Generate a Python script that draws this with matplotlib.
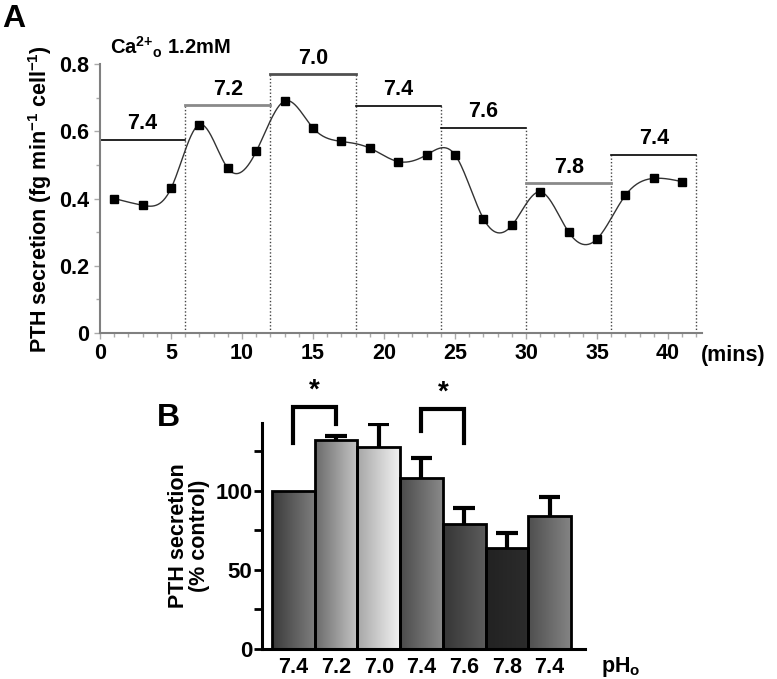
import numpy as np
import matplotlib.pyplot as plt
from matplotlib.ticker import MultipleLocator

plt.rcParams['font.family'] = ['Liberation Sans', 'DejaVu Sans']
plt.rcParams['font.weight'] = 'bold'
plt.rcParams['mathtext.fontset'] = 'custom'
plt.rcParams['mathtext.rm'] = 'Liberation Sans:bold'
plt.rcParams['mathtext.bf'] = 'Liberation Sans:bold'
plt.rcParams['mathtext.it'] = 'Liberation Sans:bold'
plt.rcParams['mathtext.default'] = 'bf'

# ---- panel A data ----
mins = [1, 3, 5, 7, 9, 11, 13, 15, 17, 19, 21, 23, 25, 27, 29, 31, 33, 35, 37, 39, 41]
secretion = [0.40, 0.38, 0.43, 0.62, 0.49, 0.54, 0.69, 0.61, 0.57, 0.55, 0.51,
             0.53, 0.53, 0.34, 0.32, 0.42, 0.30, 0.28, 0.41, 0.46, 0.45]
period_edges = [0, 6, 12, 18, 24, 30, 36, 42]
period_ph = ['7.4', '7.2', '7.0', '7.4', '7.6', '7.8', '7.4']
period_level = [0.575, 0.678, 0.770, 0.676, 0.610, 0.446, 0.530]
period_color = ['black', '#8a8a8a', '#505050', 'black', 'black', '#8a8a8a', 'black']

# ---- panel B data ----
bar_ph = ['7.4', '7.2', '7.0', '7.4', '7.6', '7.8', '7.4']
bar_pct = [100, 132, 128, 108, 79, 64, 84]
bar_err = [0, 2.5, 14, 13, 10, 9.5, 12]
bar_grad = [('#3a3a3a', '#7e7e7e'), ('#6a6a6a', '#c6c6c6'), ('#a6a6a6', '#f2f2f2'),
            ('#4a4a4a', '#8a8a8a'), ('#353535', '#5c5c5c'), ('#222222', '#2c2c2c'),
            ('#4e4e4e', '#848484')]


def natural_spline(x, y, n=600):
    # natural cubic spline just for the smooth trace between the points
    x = np.asarray(x, float)
    y = np.asarray(y, float)
    h = np.diff(x)
    m = len(x)
    A = np.zeros((m, m))
    r = np.zeros(m)
    A[0, 0] = A[-1, -1] = 1
    for i in range(1, m - 1):
        A[i, i - 1] = h[i - 1]
        A[i, i] = 2 * (h[i - 1] + h[i])
        A[i, i + 1] = h[i]
        r[i] = 6 * ((y[i + 1] - y[i]) / h[i] - (y[i] - y[i - 1]) / h[i - 1])
    M = np.linalg.solve(A, r)
    xs = np.linspace(x[0], x[-1], n)
    k = np.clip(np.searchsorted(x, xs) - 1, 0, m - 2)
    t0 = x[k + 1] - xs
    t1 = xs - x[k]
    hk = h[k]
    ys = (M[k] * t0 ** 3 + M[k + 1] * t1 ** 3) / (6 * hk) \
        + (y[k] / hk - M[k] * hk / 6) * t0 + (y[k + 1] / hk - M[k + 1] * hk / 6) * t1
    return xs, ys


def hex2rgb(c):
    c = c.lstrip('#')
    return np.array([int(c[i:i + 2], 16) / 255 for i in (0, 2, 4)])


fig = plt.figure(figsize=(7.77, 6.79), dpi=100)

# ================= A =================
axA = fig.add_axes([0.1287, 0.5096, 0.775, 0.396])
xs, ys = natural_spline(mins, secretion)
axA.plot(xs, ys, color='#333333', lw=1.0, zorder=3)
axA.plot(mins, secretion, 's', color='black', ms=5.5, zorder=4)

for i in range(len(period_ph)):
    x0, x1 = period_edges[i], period_edges[i + 1]
    lw = 2.0 if period_color[i] != 'black' else 1.2
    axA.plot([x0, x1], [period_level[i]] * 2, color=period_color[i], lw=lw,
             clip_on=False, zorder=2)
    axA.annotate(period_ph[i], ((x0 + x1) / 2, period_level[i]), xytext=(0, 4),
                 textcoords='offset points', ha='center', va='bottom',
                 fontsize=15.5, fontweight='bold', annotation_clip=False)
for j, xe in enumerate(period_edges[1:]):
    top = period_level[j] if j + 1 >= len(period_level) else max(period_level[j], period_level[j + 1])
    axA.plot([xe, xe], [0, top], color='#444444', lw=1.0, ls=(0, (1, 1.5)), zorder=1)

axA.set_xlim(0, 42.4)
axA.set_ylim(0, 0.8)
axA.xaxis.set_major_locator(MultipleLocator(5))
axA.xaxis.set_minor_locator(MultipleLocator(1))
axA.yaxis.set_minor_locator(MultipleLocator(0.1))
axA.set_yticks([0, 0.2, 0.4, 0.6, 0.8])
axA.set_yticklabels(['0', '0.2', '0.4', '0.6', '0.8'])
for s in ['top', 'right']:
    axA.spines[s].set_visible(False)
for s in ['left', 'bottom']:
    axA.spines[s].set_color('#808080')
    axA.spines[s].set_linewidth(1.5)
axA.tick_params(which='both', colors='#aaaaaa', labelcolor='black', labelsize=15.5)
axA.tick_params(which='major', length=4, width=1)
axA.tick_params(which='minor', length=3, width=1)
for lab in axA.get_xticklabels() + axA.get_yticklabels():
    lab.set_fontweight('bold')
axA.set_ylabel('PTH secretion (fg min$^{-1}$ cell$^{-1}$)', fontsize=15.5,
               fontweight='bold', labelpad=4)
axA.text(42.3, -0.035, '(mins)', fontsize=15.5, fontweight='bold', ha='left', va='top')
fig.text(0.141, 0.93, 'Ca$^{2{+}}$$_{o}$ 1.2mM', fontsize=14.5, fontweight='bold',
         ha='left', va='center')
fig.text(0.003, 0.994, 'A', fontsize=23, fontweight='bold', ha='left', va='top')

# ================= B =================
axB = fig.add_axes([0.3372, 0.0442, 0.4157, 0.333])
pos = np.arange(len(bar_pct))
bars = axB.bar(pos, bar_pct, width=1.0, color='none', edgecolor='black',
               linewidth=2, zorder=3)
grad = np.linspace(0, 1, 256)
for b, (c0, c1) in zip(bars, bar_grad):
    c0, c1 = hex2rgb(c0), hex2rgb(c1)
    img = (c0[None, :] * (1 - grad[:, None]) + c1[None, :] * grad[:, None])[None, :, :]
    x0 = b.get_x()
    im = axB.imshow(img, extent=[x0, x0 + b.get_width(), 0, b.get_height()],
                    aspect='auto', zorder=2)
    im.set_clip_path(b)

# upward-only error bars
for p, v, e in zip(pos, bar_pct, bar_err):
    if e <= 0:
        continue
    axB.plot([p, p], [v, v + e], color='black', lw=3, zorder=1, solid_capstyle='butt')
    axB.plot([p - 0.25, p + 0.25], [v + e, v + e], color='black', lw=3, zorder=1,
             solid_capstyle='butt')

# significance brackets
brackets = [(0, 1, 153, 130, 142), (3, 4, 152, 138, 130)]
for a, b, top, la, lb in brackets:
    axB.plot([pos[a], pos[a], pos[b], pos[b]], [la, top, top, lb], color='black',
             lw=3, clip_on=False, solid_joinstyle='miter')
    axB.text((pos[a] + pos[b]) / 2, top + 2, '*', fontsize=20, fontweight='bold',
             ha='center', va='bottom', clip_on=False)

axB.set_xlim(-0.734, 6.83)
axB.set_ylim(0, 143)
axB.set_xticks(pos)
axB.set_xticklabels(bar_ph)
axB.set_yticks([0, 50, 100])
axB.yaxis.set_minor_locator(MultipleLocator(25))
for s in ['top', 'right']:
    axB.spines[s].set_visible(False)
for s in ['left', 'bottom']:
    axB.spines[s].set_linewidth(2.2)
axB.tick_params(axis='x', length=0, pad=6, labelsize=15.5)
axB.tick_params(axis='y', which='both', length=6, width=2, labelsize=16, pad=1)
for lab in axB.get_xticklabels() + axB.get_yticklabels():
    lab.set_fontweight('bold')
axB.set_ylabel('PTH secretion\n(% control)', fontsize=15.5, fontweight='bold',
               linespacing=1.0, labelpad=4)
axB.text(7.2, -4, 'pH$_{o}$', fontsize=15.5, fontweight='bold', ha='left', va='top')
fig.text(0.202, 0.385, 'B', fontsize=23, fontweight='bold', ha='left', va='center')

fig.savefig('out.png', dpi=100)
